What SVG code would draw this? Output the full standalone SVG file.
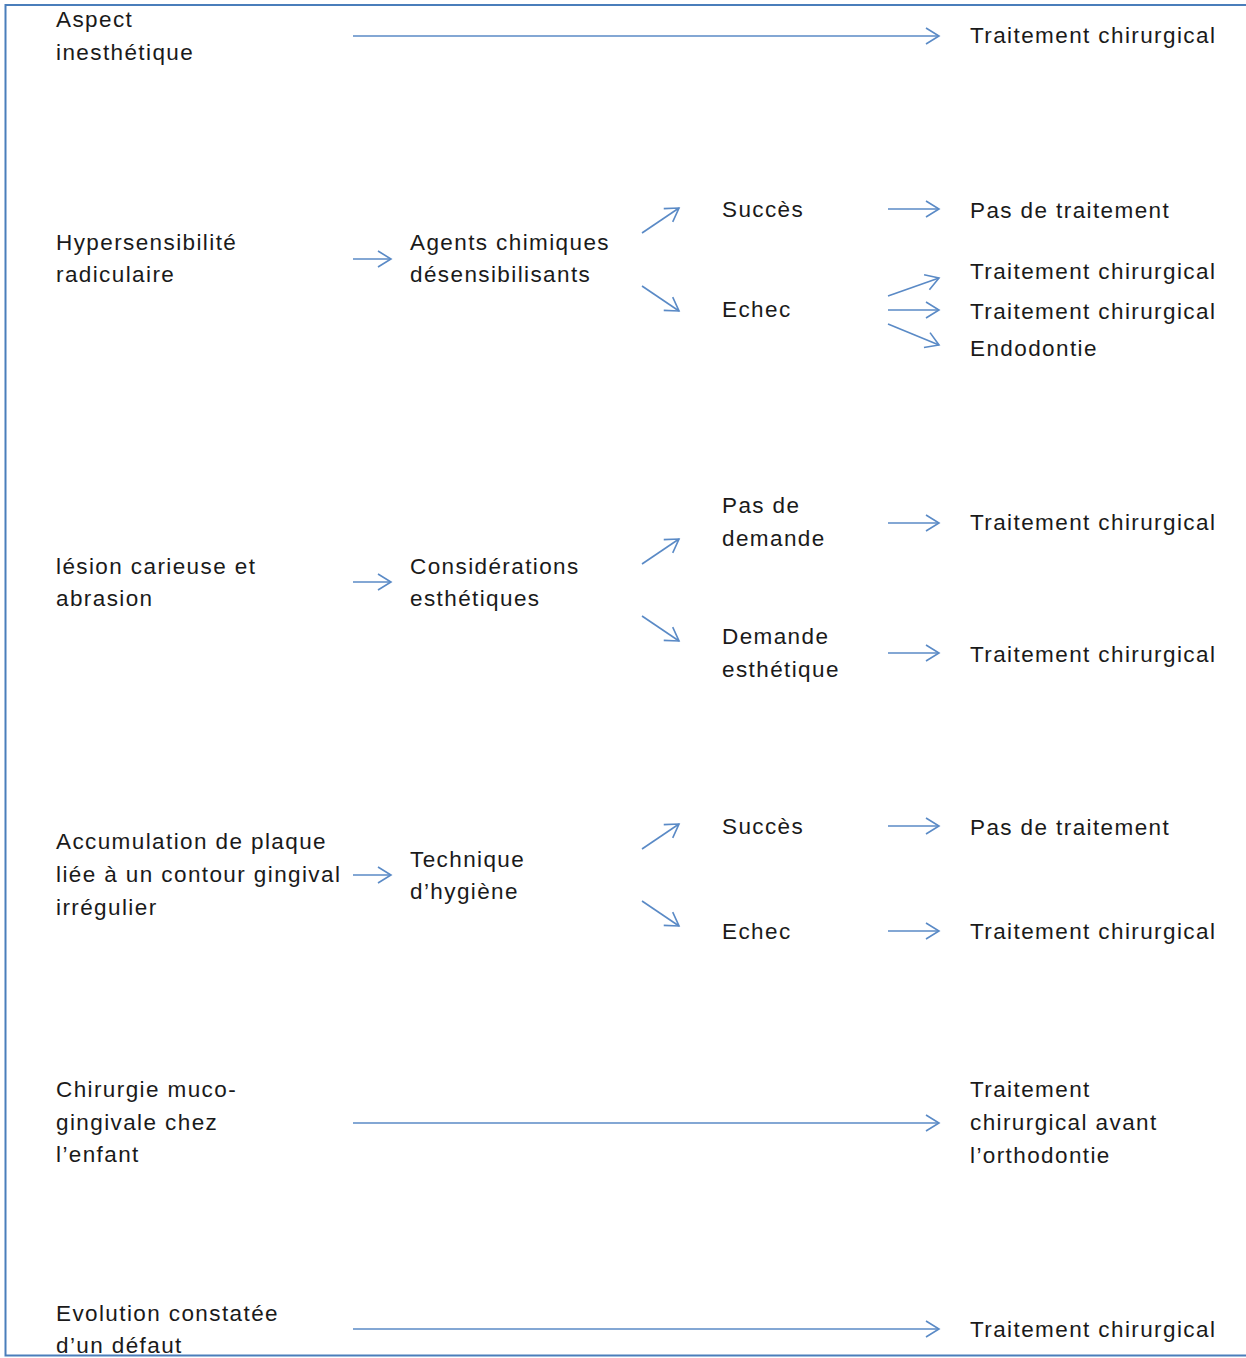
<svg xmlns="http://www.w3.org/2000/svg" width="1246" height="1358" viewBox="0 0 1246 1358">
<style>
text{font-family:"Liberation Sans",Arial,sans-serif;font-size:22.5px;letter-spacing:1.4px;fill:#1a1a1a}
.c{stroke:#5a8ac6;stroke-width:1.6;fill:none;marker-end:url(#ah)}
</style>
<defs>
<marker id="ah" markerUnits="userSpaceOnUse" markerWidth="30" markerHeight="30" viewBox="-15 -15 30 30" refX="0" refY="0" orient="auto">
<path d="M-13,-8 L0,0 L-13,8" fill="none" stroke="#5a8ac6" stroke-width="1.6"/>
</marker>
</defs>
<rect width="1246" height="1358" fill="#fff"/>
<path d="M1250,5 H5.5 V1355.5 H1250" fill="none" stroke="#4a7ebb" stroke-width="2"/>

<g id="n-aspect"><text x="56" y="27">Aspect</text><text x="56" y="60">inesthétique</text></g>
<g id="n-t1"><text x="970" y="43">Traitement chirurgical</text></g>

<g id="n-hyper"><text x="56" y="250">Hypersensibilité</text><text x="56" y="282">radiculaire</text></g>
<g id="n-agents"><text x="410" y="250">Agents chimiques</text><text x="410" y="282">désensibilisants</text></g>
<g id="n-succes1"><text x="722" y="217">Succès</text></g>
<g id="n-echec1"><text x="722" y="317">Echec</text></g>
<g id="n-pas1"><text x="970" y="218">Pas de traitement</text></g>
<g id="n-t2"><text x="970" y="279">Traitement chirurgical</text></g>
<g id="n-t3"><text x="970" y="319">Traitement chirurgical</text></g>
<g id="n-endo"><text x="970" y="356">Endodontie</text></g>

<g id="n-lesion"><text x="56" y="574">lésion carieuse et</text><text x="56" y="606">abrasion</text></g>
<g id="n-consid"><text x="410" y="574">Considérations</text><text x="410" y="606">esthétiques</text></g>
<g id="n-pasdem"><text x="722" y="513">Pas de</text><text x="722" y="546">demande</text></g>
<g id="n-dem"><text x="722" y="644">Demande</text><text x="722" y="677">esthétique</text></g>
<g id="n-t4"><text x="970" y="530">Traitement chirurgical</text></g>
<g id="n-t5"><text x="970" y="662">Traitement chirurgical</text></g>

<g id="n-accum"><text x="56" y="849">Accumulation de plaque</text><text x="56" y="882">liée à un contour gingival</text><text x="56" y="915">irrégulier</text></g>
<g id="n-tech"><text x="410" y="867">Technique</text><text x="410" y="899">d’hygiène</text></g>
<g id="n-succes2"><text x="722" y="834">Succès</text></g>
<g id="n-echec2"><text x="722" y="939">Echec</text></g>
<g id="n-pas2"><text x="970" y="835">Pas de traitement</text></g>
<g id="n-t6"><text x="970" y="939">Traitement chirurgical</text></g>

<g id="n-chir"><text x="56" y="1097">Chirurgie muco-</text><text x="56" y="1130">gingivale chez</text><text x="56" y="1162">l’enfant</text></g>
<g id="n-t7"><text x="970" y="1097">Traitement</text><text x="970" y="1130">chirurgical avant</text><text x="970" y="1163">l’orthodontie</text></g>

<g id="n-evol"><text x="56" y="1321">Evolution constatée</text><text x="56" y="1353">d’un défaut</text></g>
<g id="n-t8"><text x="970" y="1337">Traitement chirurgical</text></g>

<g id="connectors">
<line class="c" x1="353" y1="36" x2="939" y2="36"/>
<line class="c" x1="353" y1="259" x2="391" y2="259"/>
<line class="c" x1="642" y1="233" x2="679" y2="208"/>
<line class="c" x1="642" y1="286" x2="679" y2="311"/>
<line class="c" x1="888" y1="209" x2="939" y2="209"/>
<line class="c" x1="888" y1="296" x2="939" y2="278"/>
<line class="c" x1="888" y1="310" x2="939" y2="310"/>
<line class="c" x1="888" y1="324" x2="939" y2="345"/>

<line class="c" x1="353" y1="582" x2="391" y2="582"/>
<line class="c" x1="642" y1="564" x2="679" y2="539"/>
<line class="c" x1="642" y1="616" x2="679" y2="641"/>
<line class="c" x1="888" y1="523" x2="939" y2="523"/>
<line class="c" x1="888" y1="653" x2="939" y2="653"/>

<line class="c" x1="353" y1="875" x2="391" y2="875"/>
<line class="c" x1="642" y1="849" x2="679" y2="824"/>
<line class="c" x1="642" y1="901" x2="679" y2="926"/>
<line class="c" x1="888" y1="826" x2="939" y2="826"/>
<line class="c" x1="888" y1="931" x2="939" y2="931"/>

<line class="c" x1="353" y1="1123" x2="939" y2="1123"/>
<line class="c" x1="353" y1="1329" x2="939" y2="1329"/>
</g>
</svg>
